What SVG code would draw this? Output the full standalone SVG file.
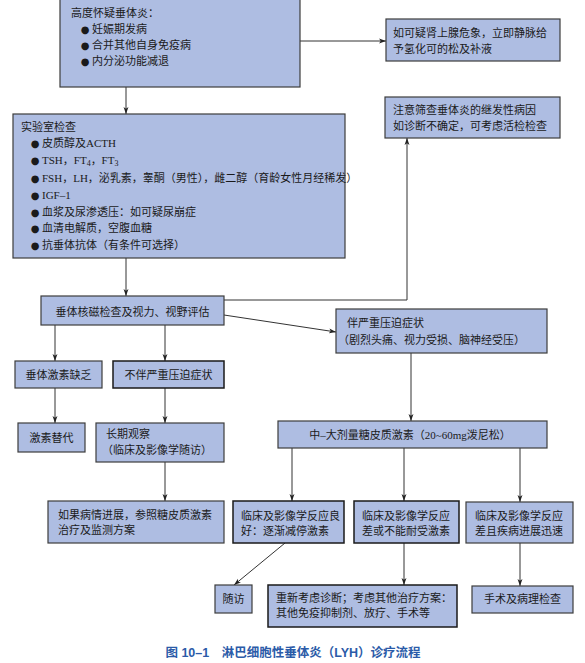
<svg xmlns="http://www.w3.org/2000/svg" width="585" height="663" viewBox="0 0 585 663">
<style>
.box{fill:#aebde2;stroke:#3c3c3c;stroke-width:1.2}
.dk{stroke:#1a1a1a;stroke-width:1.5}
.t{font-family:"Liberation Serif","Noto Sans CJK SC",serif;font-size:11px;fill:#1a1a1a}
.c{text-anchor:middle}
.b{font-family:"DejaVu Sans",sans-serif;font-size:10px;fill:#1a1a1a;text-anchor:middle}
.ln{fill:none;stroke:#333;stroke-width:1}
.cap{font-family:"Liberation Sans","Noto Sans CJK SC",sans-serif;font-size:12.5px;font-weight:bold;fill:#2b5ba8;text-anchor:middle}
</style>
<defs>
<marker id="ah" viewBox="0 0 10 10" refX="10" refY="5" markerWidth="7" markerHeight="7" markerUnits="userSpaceOnUse" orient="auto">
<path d="M0,1.5 L10,5 L0,8.5 L2.5,5 Z" fill="#222"/>
</marker>
</defs>
<rect width="585" height="663" fill="#ffffff"/>

<g id="connectors">
<line class="ln" x1="300" y1="41" x2="386" y2="41" marker-end="url(#ah)"/>
<line class="ln" x1="126" y1="87" x2="126" y2="114" marker-end="url(#ah)"/>
<line class="ln" x1="126" y1="258" x2="126" y2="296" marker-end="url(#ah)"/>
<polyline class="ln" points="224,300 407,300 407,138" marker-end="url(#ah)"/>
<line class="ln" x1="224" y1="315" x2="336" y2="332" marker-end="url(#ah)"/>
<line class="ln" x1="55" y1="325" x2="55" y2="361" marker-end="url(#ah)"/>
<line class="ln" x1="165" y1="325" x2="165" y2="361" marker-end="url(#ah)"/>
<line class="ln" x1="55" y1="388" x2="55" y2="423" marker-end="url(#ah)"/>
<line class="ln" x1="165" y1="388" x2="165" y2="423" marker-end="url(#ah)"/>
<line class="ln" x1="411" y1="353" x2="411" y2="421" marker-end="url(#ah)"/>
<line class="ln" x1="165" y1="462" x2="165" y2="501" marker-end="url(#ah)"/>
<line class="ln" x1="292" y1="448" x2="292" y2="501" marker-end="url(#ah)"/>
<line class="ln" x1="404" y1="448" x2="404" y2="501" marker-end="url(#ah)"/>
<line class="ln" x1="520" y1="448" x2="520" y2="502" marker-end="url(#ah)"/>
<line class="ln" x1="285" y1="543" x2="234" y2="585" marker-end="url(#ah)"/>
<line class="ln" x1="404" y1="543" x2="404" y2="585" marker-end="url(#ah)"/>
<line class="ln" x1="520" y1="543" x2="520" y2="586" marker-end="url(#ah)"/>
</g>

<g id="n1">
<rect class="box" x="60" y="-1" width="240" height="88"/>
<text class="t" x="71" y="17">高度怀疑垂体炎：</text>
<text class="b" x="85" y="33">●</text><text class="t" x="92" y="33">妊娠期发病</text>
<text class="b" x="85" y="49">●</text><text class="t" x="92" y="49">合并其他自身免疫病</text>
<text class="b" x="85" y="65">●</text><text class="t" x="92" y="65">内分泌功能减退</text>
</g>

<g id="n2">
<rect class="box" x="386" y="19" width="174" height="42"/>
<text class="t" x="393" y="37">如可疑肾上腺危象，立即静脉给</text>
<text class="t" x="393" y="53">予氢化可的松及补液</text>
</g>

<g id="n3">
<rect class="box" x="385" y="97" width="175" height="41"/>
<text class="t" x="393" y="114">注意筛查垂体炎的继发性病因</text>
<text class="t" x="393" y="130">如诊断不确定，可考虑活检检查</text>
</g>

<g id="n4">
<rect class="box" x="13" y="114" width="332" height="144"/>
<text class="t" x="21" y="131">实验室检查</text>
<text class="b" x="35" y="147">●</text><text class="t" x="42" y="147">皮质醇及ACTH</text>
<text class="b" x="35" y="164">●</text><text class="t" x="42" y="164">TSH，FT<tspan dy="2" font-size="8">4</tspan><tspan dy="-2">，FT</tspan><tspan dy="2" font-size="8">3</tspan></text>
<text class="b" x="35" y="182">●</text><text class="t" x="42" y="182">FSH，LH，泌乳素，睾酮（男性），雌二醇（育龄女性月经稀发）</text>
<text class="b" x="35" y="199">●</text><text class="t" x="42" y="199">IGF–1</text>
<text class="b" x="35" y="216">●</text><text class="t" x="42" y="216">血浆及尿渗透压：如可疑尿崩症</text>
<text class="b" x="35" y="232">●</text><text class="t" x="42" y="232">血清电解质，空腹血糖</text>
<text class="b" x="35" y="249">●</text><text class="t" x="42" y="249">抗垂体抗体（有条件可选择）</text>
</g>

<g id="n5">
<rect class="box" x="41" y="296" width="183" height="29"/>
<text class="t c" x="132.5" y="316">垂体核磁检查及视力、视野评估</text>
</g>

<g id="n6">
<rect class="box" x="336" y="309" width="211" height="44"/>
<text class="t" x="347" y="327">伴严重压迫症状</text>
<text class="t" x="338" y="344">（剧烈头痛、视力受损、脑神经受压）</text>
</g>

<g id="n7">
<rect class="box" x="15" y="361" width="87" height="27"/>
<text class="t c" x="58.5" y="379">垂体激素缺乏</text>
</g>

<g id="n8">
<rect class="box dk" x="113" y="361" width="111" height="27"/>
<text class="t c" x="168.5" y="379">不伴严重压迫症状</text>
</g>

<g id="n9">
<rect class="box" x="18" y="423" width="67" height="29"/>
<text class="t c" x="51.5" y="442">激素替代</text>
</g>

<g id="n10">
<rect class="box" x="96" y="423" width="128" height="39"/>
<text class="t" x="106" y="438">长期观察</text>
<text class="t" x="102" y="454">（临床及影像学随访）</text>
</g>

<g id="n11">
<rect class="box" x="278" y="421" width="269" height="27"/>
<text class="t c" x="410" y="439">中–大剂量糖皮质激素（20~60mg泼尼松）</text>
</g>

<g id="n12">
<rect class="box" x="48" y="501" width="176" height="42"/>
<text class="t" x="58" y="519">如果病情进展，参照糖皮质激素</text>
<text class="t" x="58" y="534">治疗及监测方案</text>
</g>

<g id="n13">
<rect class="box dk" x="233" y="501" width="111" height="42"/>
<text class="t" x="241" y="520">临床及影像学反应良</text>
<text class="t" x="241" y="535">好：逐渐减停激素</text>
</g>

<g id="n14">
<rect class="box dk" x="354" y="501" width="105" height="42"/>
<text class="t" x="362" y="520">临床及影像学反应</text>
<text class="t" x="362" y="535">差或不能耐受激素</text>
</g>

<g id="n15">
<rect class="box" x="466" y="502" width="107" height="41"/>
<text class="t" x="475" y="520">临床及影像学反应</text>
<text class="t" x="475" y="535">差且疾病进展迅速</text>
</g>

<g id="n16">
<rect class="box" x="215" y="585" width="37" height="28"/>
<text class="t c" x="233.5" y="603">随访</text>
</g>

<g id="n17">
<rect class="box dk" x="268" y="585" width="189" height="42"/>
<text class="t" x="276" y="602">重新考虑诊断；考虑其他治疗方案：</text>
<text class="t" x="276" y="617">其他免疫抑制剂、放疗、手术等</text>
</g>

<g id="n18">
<rect class="box" x="472" y="586" width="101" height="27"/>
<text class="t c" x="522.5" y="603">手术及病理检查</text>
</g>

<text class="cap" x="293" y="657">图 10–1　淋巴细胞性垂体炎（LYH）诊疗流程</text>
</svg>
